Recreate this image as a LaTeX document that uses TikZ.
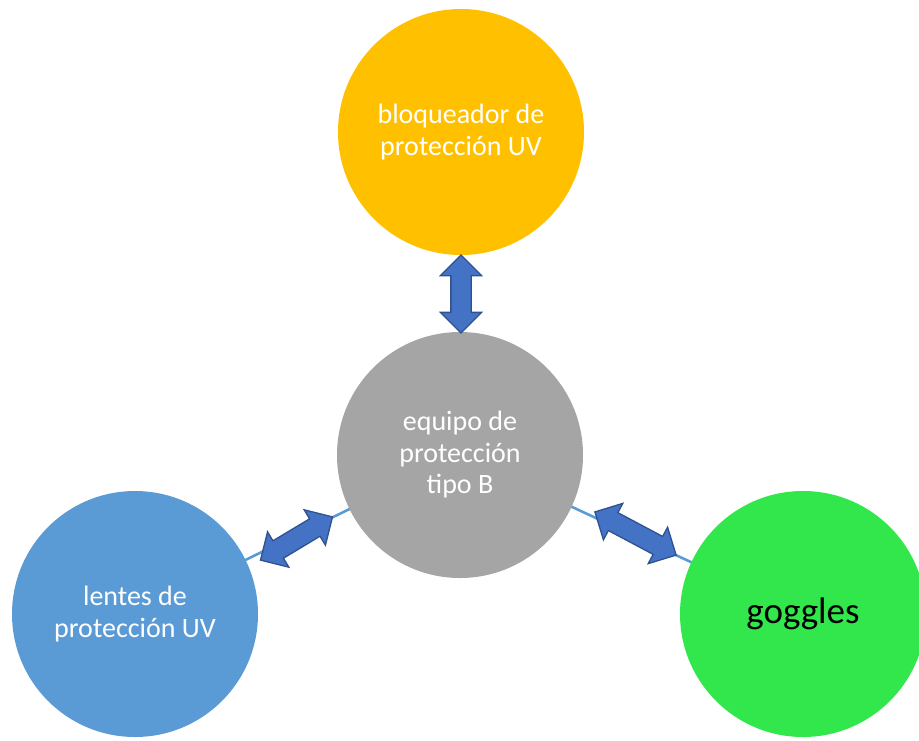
\documentclass[tikz,border=0pt]{standalone}
\usepackage{fontspec}
\setmainfont{Carlito}
\usetikzlibrary{shapes.arrows,backgrounds}
\definecolor{cyellow}{HTML}{FFC000}
\definecolor{cgray}{HTML}{A5A5A5}
\definecolor{cblue}{HTML}{5B9BD5}
\definecolor{cgreen}{HTML}{31E74C}
\definecolor{afill}{HTML}{4472C4}
\definecolor{aedge}{HTML}{2F528F}
\tikzset{
  bubble/.style={circle, minimum size=246pt, inner sep=0pt, text=white,
    align=center, font=\fontsize{28}{31.5}\selectfont},
  link/.style={draw=cblue, line width=2.6pt},
  dblarrow/.style={double arrow, fill=afill, draw=aedge, line width=1.3pt,
    double arrow head extend=10.5pt, inner sep=0pt,
    double arrow head indent=0pt}
}
\newcommand{\shaft}{\rule[-9.5pt]{0pt}{19pt}}
\begin{document}
\begin{tikzpicture}[x=1pt,y=-1pt]
  \useasboundingbox (0,0) rectangle (919,740);
  \node[bubble, fill=cyellow] (top) at (461,132) {bloqueador de\\protección UV};
  \node[bubble, fill=cgray] (mid) at (460,455) {\raisebox{-3pt}{\parbox{150pt}{\centering equipo de\\protección\\tipo B}}};
  \node[bubble, fill=cblue] (left) at (135,614) {\raisebox{-3pt}{\parbox{200pt}{\centering lentes de\\protección UV}}};
  \node[bubble, fill=cgreen, text=black, font=\fontsize{37}{40}\selectfont] (right) at (803,614) {goggles};
  \begin{pgfonlayer}{background}
    \draw[link] (mid.center) -- (left.center);
    \draw[link] (mid.center) -- (right.center);
  \end{pgfonlayer}
  \node[dblarrow, minimum height=78pt, rotate=90] (a1) at (461,294) {\shaft};
  \node[dblarrow, minimum height=84pt, rotate=31] (a2) at (296.5,538.5) {\shaft};
  \node[dblarrow, minimum height=92pt, rotate=-28] (a3) at (635.5,533.5) {\shaft};
\end{tikzpicture}
\end{document}
